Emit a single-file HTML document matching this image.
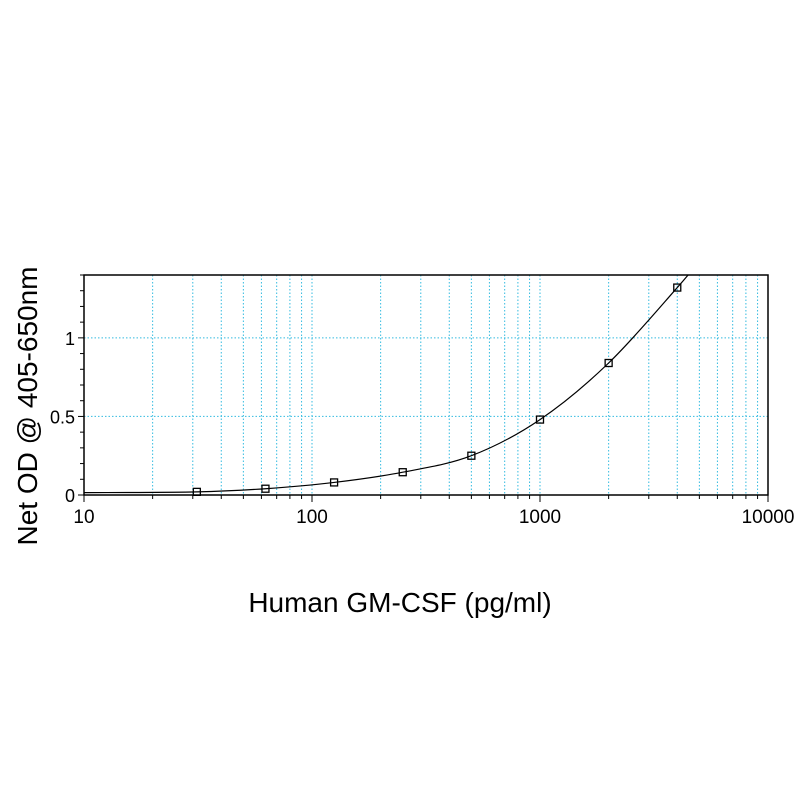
<!DOCTYPE html>
<html><head><meta charset="utf-8"><style>body{margin:0;background:#fff}svg{display:block}</style></head>
<body>
<svg id="chart" width="800" height="800" xmlns="http://www.w3.org/2000/svg" font-family="Liberation Sans, sans-serif">
<defs><clipPath id="plotclip"><rect x="84" y="275" width="684" height="220"/></clipPath></defs>
</svg>
<script>
const concentrations = [31.25, 62.5, 125, 250, 500, 1000, 2000, 4000];
const odValues = [0.02, 0.04, 0.08, 0.145, 0.25, 0.48, 0.84, 1.32];
const curveStart = [10, 0.015];
const curveEnd = [5200, 1.52];
const xTickLabels = ["10", "100", "1000", "10000"];
const yTickLabels = ["0", "0.5", "1"];
const yTickValues = [0, 0.5, 1];

const L=84,R=768,T=275,B=495,yMax=1.40;
const xs=v=>L+(Math.log10(v)-1)/3*(R-L);
const ys=v=>B-v/yMax*(B-T);
const svg=document.getElementById('chart');
const NS='http://www.w3.org/2000/svg';
function mk(tag,attrs,parent){const e=document.createElementNS(NS,tag);for(const k in attrs)e.setAttribute(k,attrs[k]);(parent||svg).appendChild(e);return e;}

const grid=mk('g',{});


for(let d=1;d<=1000;d*=10){for(let m=2;m<=10;m++){const v=d*m;if(v<=10||v>=10000)continue;const x=xs(v);mk('line',{x1:x,y1:T,x2:x,y2:B,stroke:'#33bbe0','stroke-width':1,'stroke-dasharray':'1.5,2'},grid);}}
[0.5,1].forEach(v=>mk('line',{x1:L,y1:ys(v),x2:R,y2:ys(v),stroke:'#33bbe0','stroke-width':1,'stroke-dasharray':'1.5,2'},grid));

const frame=mk('rect',{x:L,y:T,width:R-L,height:B-T,fill:'none',stroke:'#000','stroke-width':1.5});



const ax=mk('g',{});


for(let i=0;i<=14;i++){const y=ys(i/10);mk('line',{x1:L-(i%5==0?6:4),y1:y,x2:L,y2:y,stroke:'#000','stroke-width':1},ax);}
for(let d=10;d<10000;d*=10){for(let m=1;m<=10;m++){const x=xs(d*m);mk('line',{x1:x,y1:B,x2:x,y2:B+(m==1||m==10?7:4),stroke:'#000','stroke-width':1},ax);}}

xTickLabels.forEach(t=>{const e=mk('text',{x:xs(+t),y:B+28,'text-anchor':'middle','font-size':19},ax);e.textContent=t;

});
yTickLabels.forEach((t,i)=>{const e=mk('text',{x:L-9,y:ys(yTickValues[i])+7,'text-anchor':'end','font-size':18},ax);e.textContent=t;

});

const pts=[[curveStart[0],curveStart[1]]].concat(concentrations.map((c,i)=>[c,odValues[i]])).concat([[curveEnd[0],curveEnd[1]]]).map(p=>[xs(p[0]),ys(p[1])]);
let d='M'+pts[0][0]+','+pts[0][1];
for(let i=0;i<pts.length-1;i++){const p0=pts[Math.max(0,i-1)],p1=pts[i],p2=pts[i+1],p3=pts[Math.min(pts.length-1,i+2)];
d+=' C'+(p1[0]+(p2[0]-p0[0])/6)+','+(p1[1]+(p2[1]-p0[1])/6)+' '+(p2[0]-(p3[0]-p1[0])/6)+','+(p2[1]-(p3[1]-p1[1])/6)+' '+p2[0]+','+p2[1];}
const curve=mk('path',{d:d,fill:'none',stroke:'#000','stroke-width':1.2,'clip-path':'url(#plotclip)'});



concentrations.forEach((c,i)=>{const r=mk('rect',{x:xs(c)-3.5,y:ys(odValues[i])-3.5,width:7,height:7,fill:'none',stroke:'#000','stroke-width':1.3});

});

const xt=mk('text',{x:400,y:612,'text-anchor':'middle','font-size':28});xt.textContent='Human GM-CSF (pg/ml)';


const yt=mk('text',{x:0,y:0,'text-anchor':'middle','font-size':28,transform:'translate(37,406) rotate(-90)'});yt.textContent='Net OD @ 405-650nm';


</script>
</body></html>
